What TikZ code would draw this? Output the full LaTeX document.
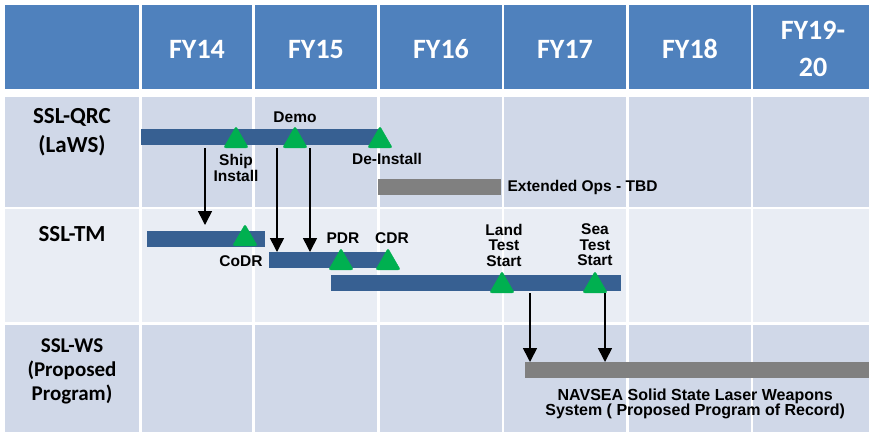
\documentclass[tikz,border=0pt]{standalone}
\usepackage{fontspec}
\setmainfont{Carlito}
\newfontfamily\arialfont{Liberation Sans}
\usetikzlibrary{arrows.meta,shapes.geometric,positioning}

\definecolor{hdrblue}{RGB}{79,129,189}
\definecolor{rowdark}{RGB}{208,216,232}
\definecolor{rowlight}{RGB}{233,237,244}
\definecolor{barblue}{RGB}{55,96,146}
\definecolor{bargray}{RGB}{128,128,128}
\definecolor{mgreen}{RGB}{0,176,80}

\tikzset{
  hdr/.style={text=white, font=\fontsize{28}{37}\selectfont\bfseries, align=center, inner sep=0pt},
  rowlab/.style={font=\fontsize{23}{29}\selectfont\bfseries, align=center, inner sep=0pt},
  plan/.style={fill=barblue, minimum height=15.5pt, inner sep=0pt, anchor=north west},
  tbd/.style={fill=bargray, minimum height=16pt, inner sep=0pt, anchor=north west},
  mile/.style={regular polygon, regular polygon sides=3, fill=mgreen, draw=mgreen,
    rounded corners=2pt, minimum size=28.5pt, inner sep=0pt, anchor=side 2},
  tag/.style={font=\arialfont\bfseries\fontsize{15.5}{15.5}\selectfont, align=center, inner sep=0pt},
  handoff/.style={line width=1.6pt, -{Triangle[width=14pt,length=14pt]}},
}

\begin{document}
\begin{tikzpicture}[x=1pt, y=-1pt]
    \useasboundingbox (0,0) rectangle (869,432);

    % Table cells: header row, then one band per program
    \foreach \ya/\yb/\shade in {5/89/hdrblue, 97/207/rowdark, 209/322/rowlight, 325/432/rowdark}
      \foreach \xa/\xb in {5/139, 142/252, 255/377, 380/502, 504/626, 629/751, 753/869}
        \fill[\shade] (\xa,\ya) rectangle (\xb,\yb);

    % Fiscal year headings
    \node[hdr] (fy14) at (197,49) {FY14};
    \node[hdr] (fy15) at (316,49) {FY15};
    \node[hdr] (fy16) at (441,49) {FY16};
    \node[hdr] (fy17) at (565,49) {FY17};
    \node[hdr] (fy18) at (690,49) {FY18};
    \node[hdr] (fy19) at (813,49) {FY19-\\20};

    % Program names
    \node[rowlab] (qrc) at (72,132) {SSL-QRC\\(LaWS)};
    \node[rowlab] (tm) at (72,234) {SSL-TM};
    \node[rowlab, font=\fontsize{21}{24}\selectfont\bfseries] (ws) at (72,371) {SSL-WS\\(Proposed\\Program)};

    % SSL-QRC schedule
    \node[plan, minimum width=237pt] (qrcBar) at (141,129) {};
    \node[mile] (msShip) at (236,148) {};
    \node[mile] (msDemo) at (295,148) {};
    \node[mile] (msDeinst) at (380,148) {};
    \node[tag] (tDemo) at ([yshift=9pt]msDemo.north) {Demo};
    \node[tag] (tShip) at ([yshift=-20pt]msShip.side 2) {Ship\\Install};
    \node[tag] (tDeinst) at ([xshift=7pt,yshift=-11pt]msDeinst.side 2) {De-Install};
    \node[tbd, minimum width=123pt] (opsBar) at (378,179) {};
    \node[tag, anchor=west] (tOps) at ([xshift=6pt]opsBar.east) {Extended Ops - TBD};

    % SSL-TM schedule
    \node[plan, minimum width=118pt] (tmBarA) at (147,231) {};
    \node[plan, minimum width=118pt] (tmBarB) at (269,252) {};
    \node[plan, minimum width=290pt] (tmBarC) at (331,275) {};
    \node[mile] (msCodr) at (245,246) {};
    \node[mile] (msPdr) at (341,270) {};
    \node[mile] (msCdr) at (388,270) {};
    \node[mile] (msLand) at (502,293) {};
    \node[mile] (msSea) at (595,293) {};
    \node[tag] (tCodr) at ([xshift=-4pt,yshift=-15pt]msCodr.side 2) {CoDR};
    \node[tag] (tPdr) at ([xshift=2pt,yshift=10pt]msPdr.north) {PDR};
    \node[tag] (tCdr) at ([xshift=4pt,yshift=10pt]msCdr.north) {CDR};
    \node[tag] (tLand) at ([xshift=2pt,yshift=26pt]msLand.north) {Land\\Test\\Start};
    \node[tag] (tSea) at ([yshift=26pt]msSea.north) {Sea\\Test\\Start};

    % SSL-WS schedule
    \node[tbd, minimum width=344pt] (wsBar) at (525,362) {};
    \node[tag, anchor=north, font=\arialfont\bfseries\fontsize{16}{15.5}\selectfont] (tWs)
        at ([xshift=-2pt,yshift=-10pt]wsBar.south)
        {NAVSEA Solid State Laser Weapons\\System ( Proposed Program of Record)};

    % Hand-offs between programs
    \coordinate (dropA) at (205,148);
    \coordinate (dropB) at (277,148);
    \coordinate (dropC) at (310,148);
    \coordinate (dropD) at (530,293);
    \coordinate (dropE) at (605,293);
    \coordinate (landA) at (205,225);
    \draw[handoff] (dropA) -- (landA);
    \draw[handoff] (dropB) -- (dropB |- tmBarB.north);
    \draw[handoff] (dropC) -- (dropC |- tmBarB.north);
    \draw[handoff] (dropD) -- (dropD |- wsBar.north);
    \draw[handoff] (dropE) -- (dropE |- wsBar.north);
\end{tikzpicture}
\end{document}
